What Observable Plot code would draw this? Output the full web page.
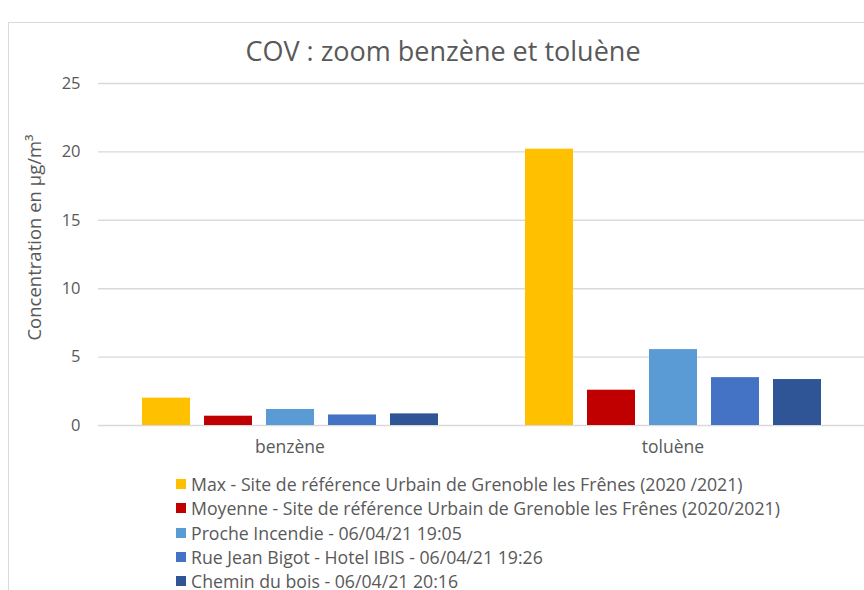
<!DOCTYPE html>
<html>
<head>
<meta charset="utf-8">
<script src="https://cdn.jsdelivr.net/npm/d3@7"></script>
<script src="https://cdn.jsdelivr.net/npm/@observablehq/plot@0.6"></script>
<style>
  html, body { margin: 0; padding: 0; background: #fff; }
  #wrap { position: relative; width: 864px; height: 590px; overflow: hidden; font-family: "Open Sans", sans-serif; color: #595959; }
  #frame { position: absolute; left: 8px; top: 22px; width: 1000px; height: 1000px; border: 1px solid #d9d9d9; box-sizing: border-box; }
  #title { position: absolute; left: 0; width: 886px; top: 31px; text-align: center; font-size: 27px; color: #595959; line-height: 40px; }
  #chart { position: absolute; left: 0; top: 60px; }
  #legend { position: absolute; left: 176px; top: 472px; font-size: 17.7px; color: #595959; }
  .row { height: 24.3px; line-height: 24.3px; display: flex; align-items: center; white-space: nowrap; }
  .sw { width: 10px; height: 10px; margin-right: 5px; flex: none; }
</style>
</head>
<body>
<div id="wrap">
  <div id="frame"></div>
  <div id="title">COV : zoom benzène et toluène</div>
  <div id="chart"></div>
  <div id="legend"></div>
</div>
<script>
const groups = ["benzène", "toluène"];
const series = [
  "Max - Site de référence Urbain de Grenoble les Frênes (2020 /2021)",
  "Moyenne - Site de référence Urbain de Grenoble les Frênes (2020/2021)",
  "Proche Incendie - 06/04/21 19:05",
  "Rue Jean Bigot - Hotel IBIS - 06/04/21 19:26",
  "Chemin du bois - 06/04/21 20:16"
];
const benzeneValues = [2.0, 0.68, 1.17, 0.77, 0.85];
const tolueneValues = [20.2, 2.58, 5.55, 3.5, 3.36];
const colors = ["#FFC000", "#C00000", "#5B9BD5", "#4472C4", "#2F5597"];
const yTicks = [0, 5, 10, 15, 20, 25];
const yLabel = "Concentration en µg/m³";

const data = [];
series.forEach((s, i) => {
  data.push({group: groups[0], series: s, value: benzeneValues[i]});
  data.push({group: groups[1], series: s, value: tolueneValues[i]});
});

const chart = Plot.plot({
  width: 864,
  height: 405,
  marginTop: 23,
  marginBottom: 40,
  marginLeft: 98,
  marginRight: 0,
  style: {fontFamily: "Open Sans, sans-serif", fontSize: "16px", color: "#595959", background: "transparent"},
  fx: {domain: groups, paddingInner: 0, paddingOuter: 0},
  x: {domain: series, paddingInner: 0.226, paddingOuter: 0.70, axis: null},
  y: {domain: [0, 25], axis: null},
  color: {domain: series, range: colors},
  marks: [
    Plot.gridY(yTicks, {stroke: "#d9d9d9", strokeOpacity: 1, strokeWidth: 1.4}),
    Plot.barY(data, {fx: "group", x: "series", y: "value", fill: "series"}),
    Plot.axisY(yTicks, {tickSize: 0, tickPadding: 18, label: null, fill: "#595959", fontSize: 16.5}),
    Plot.axisFx({anchor: "bottom", tickSize: 0, tickPadding: 15, label: null, fill: "#595959", fontSize: 17.5}),
    Plot.text([yLabel], {fx: [groups[0]], frameAnchor: "left", textAnchor: "middle", dx: -63, dy: -17, rotate: -90, fill: "#595959", fontSize: 18.5})
  ]
});
document.getElementById("chart").appendChild(chart);

const legend = document.getElementById("legend");
series.forEach((s, i) => {
  const row = document.createElement("div");
  row.className = "row";
  const sw = document.createElement("span");
  sw.className = "sw";
  sw.style.background = colors[i];
  const t = document.createElement("span");
  t.textContent = s;
  row.appendChild(sw);
  row.appendChild(t);
  legend.appendChild(row);
});
</script>
</body>
</html>
